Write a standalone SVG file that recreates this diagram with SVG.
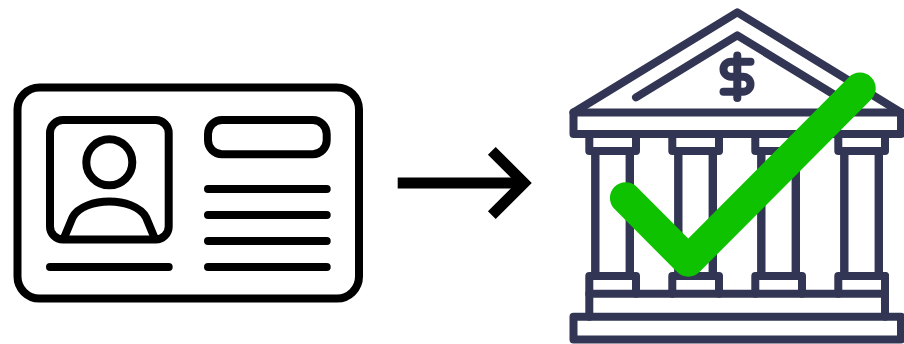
<svg xmlns="http://www.w3.org/2000/svg" width="904" height="344" viewBox="0 0 904 344">
  <style>
    .card { fill: none; stroke: #000; stroke-width: 8; stroke-linecap: round; stroke-linejoin: round; }
    .bank { fill: none; stroke: #323654; stroke-width: 8; stroke-linecap: round; stroke-linejoin: round; }
    .shaft { fill: none; stroke: #323654; stroke-width: 8.4; }
  </style>
  <defs>
    <g id="column">
      <rect class="bank" x="589.3" y="134" width="46.7" height="17"/>
      <path class="shaft" d="M595.3 151V276M629.8 151V276"/>
      <path class="bank" d="M589.3 293.7V276H636V293.7"/>
    </g>
  </defs>
  <rect width="904" height="344" fill="#fff"/>
  <g id="id-card">
    <rect class="card" x="17.5" y="87.5" width="341.5" height="211" rx="22"/>
    <rect class="card" x="50" y="120" width="118.7" height="119.5" rx="13"/>
    <circle class="card" cx="109.3" cy="162.3" r="23"/>
    <path class="card" d="M64 238L72.5 217.5C78 206.500 95 201.500 109.300 201.500C123.600 201.500 140.600 206.500 146.100 217.500L154.600 238"/>
    <rect class="card" x="208" y="120" width="118.700" height="34.300" rx="14"/>
    <path class="card" d="M208 189H326.700M208 215H326.700M208 241H326.700M208 267H326.700M50 267H168.700"/>
  </g>
  <g id="connectors">
    <path d="M397.700 183H524" fill="none" stroke="#000" stroke-width="11"/>
    <path d="M491.800 150.800L524 183L491.800 215.200" fill="none" stroke="#000" stroke-width="11" stroke-linejoin="miter"/>
  </g>
  <g id="bank">
    <path class="bank" d="M573.500 112.500L737.300 12.300L901 112.500"/>
    <rect class="bank" x="573.500" y="112.500" width="327.500" height="21.500"/>
    <path class="bank" d="M636 97.300L737.300 35.300L838 97"/>
    <path class="bank" d="M737.300 55.500V98M750.500 61.700H731A7.500 7.500 0 0 0 731 76.700H743A7.500 7.500 0 0 1 743 91.700H723.500"/>
    <use href="#column"/>
    <use href="#column" x="83"/>
    <use href="#column" x="166"/>
    <use href="#column" x="249"/>
    <path class="bank" d="M589.300 293.700H885M589.300 293.700V316.800M885 276V316.800"/>
    <rect class="bank" x="573.500" y="316.800" width="327.500" height="22.700"/>
  </g>
  <g id="check">
    <path d="M625.700 198L688.300 260.900L860 88.300" fill="none" stroke="#0ec200" stroke-width="31.500" stroke-linecap="round" stroke-linejoin="round"/>
  </g>
</svg>
